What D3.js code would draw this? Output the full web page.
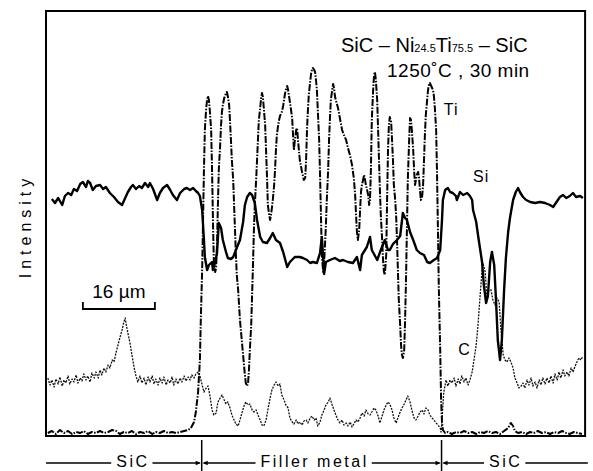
<!DOCTYPE html>
<html><head><meta charset="utf-8">
<script src="https://cdn.jsdelivr.net/npm/d3@7"></script>
<style>html,body{margin:0;padding:0;background:#fff;} svg{display:block;}</style>
</head><body><svg id="c" width="593" height="471"></svg>
<script>
// Line scan: position along the scan (µm), X-ray intensity (counts, a.u.)
const siScan = [[1.3,237],[2.0,233],[2.7,238],[3.6,231],[4.2,240],[4.9,243],[5.6,241],[6.2,247],[6.9,245],[7.6,252],[8.2,254],[8.9,249],[9.3,255],[9.8,253],[10.4,246],[11.1,250],[12.0,251],[12.7,247],[13.3,249],[14.2,243],[15.1,239],[16.0,234],[16.9,231],[17.6,238],[18.2,244],[18.9,249],[19.3,251],[20.0,247],[20.7,250],[21.3,248],[22.0,253],[22.7,249],[23.1,253],[23.8,247],[24.7,236],[25.3,243],[26.0,248],[26.9,251],[27.6,246],[28.2,241],[29.1,236],[29.8,243],[30.7,247],[31.3,248],[32.0,246],[32.7,248],[33.3,245],[33.8,243],[34.2,240],[34.7,226],[35.1,196],[35.3,179],[35.8,166],[36.2,171],[36.9,174],[37.1,166],[37.6,174],[38.0,183],[38.4,213],[38.9,208],[39.3,196],[40.0,184],[40.4,178],[41.1,177],[41.6,179],[42.2,186],[43.1,196],[43.8,214],[44.2,231],[44.7,239],[45.3,243],[45.8,241],[46.4,233],[46.9,216],[47.6,199],[48.2,194],[49.1,193],[49.8,198],[50.4,203],[51.1,196],[52.0,193],[52.7,184],[53.6,169],[54.2,174],[55.3,179],[56.4,179],[57.1,178],[58.0,176],[58.7,173],[59.3,174],[60.2,173],[60.9,183],[61.3,199],[61.6,178],[61.8,162],[62.2,174],[63.1,176],[64.2,178],[65.3,175],[66.0,176],[67.1,174],[68.2,173],[69.1,179],[69.8,166],[70.2,181],[71.3,189],[72.0,199],[72.4,186],[73.6,176],[74.4,186],[75.3,196],[76.0,186],[76.4,186],[77.1,192],[78.0,196],[78.7,200],[79.3,223],[79.8,218],[80.2,216],[80.9,204],[81.6,196],[82.4,186],[83.1,183],[84.0,181],[84.7,174],[85.3,173],[86.2,176],[86.9,178],[87.6,186],[88.0,216],[88.2,236],[88.7,246],[89.3,248],[89.8,244],[90.4,243],[91.1,240],[91.3,236],[92.0,244],[92.7,241],[93.6,243],[94.2,240],[94.7,236],[94.9,226],[95.6,214],[96.0,201],[96.4,189],[96.9,174],[97.3,151],[97.8,133],[98.2,140],[98.7,174],[99.1,184],[99.6,171],[100.0,136],[100.4,96],[100.9,76],[101.3,96],[101.8,146],[102.2,178],[102.7,204],[103.1,218],[103.8,236],[104.4,244],[104.9,248],[105.3,244],[106.0,239],[106.7,236],[107.6,234],[108.7,233],[109.8,234],[110.9,233],[112.0,231],[112.7,229],[113.3,233],[114.2,239],[114.9,241],[115.6,238],[116.4,240],[117.1,243],[117.8,239],[118.7,240],[119.3,238]];

const tiScan = [[0.4,3],[1.3,5],[2.2,2],[3.1,6],[4.0,3],[4.9,5],[5.8,2],[6.7,4],[7.6,3],[8.4,5],[9.3,2],[10.2,4],[11.1,3],[12.0,5],[12.9,3],[13.8,4],[14.7,6],[15.6,5],[16.4,2],[17.3,4],[18.2,3],[19.1,5],[20.0,2],[20.9,4],[21.8,3],[22.7,5],[23.6,2],[24.4,4],[25.3,3],[26.2,5],[27.1,3],[28.0,4],[28.9,3],[29.8,4],[30.7,5],[31.6,6],[32.2,8],[32.9,14],[33.3,24],[33.8,44],[34.2,76],[34.4,116],[34.7,166],[34.9,216],[35.1,266],[35.3,306],[35.6,328],[35.8,336],[36.0,340],[36.2,336],[36.4,326],[36.7,306],[36.9,266],[37.1,216],[37.3,174],[37.6,164],[37.8,168],[38.0,191],[38.2,231],[38.4,266],[38.7,291],[38.9,311],[39.1,324],[39.3,331],[39.6,338],[39.8,340],[40.0,343],[40.2,344],[40.4,340],[40.7,331],[40.9,314],[41.1,296],[41.3,276],[41.6,256],[41.8,231],[42.0,206],[42.2,181],[42.4,161],[42.7,146],[42.9,131],[43.1,116],[43.6,91],[44.0,71],[44.2,61],[44.4,53],[44.7,50],[44.9,53],[45.1,66],[45.3,86],[45.6,111],[45.8,141],[46.0,171],[46.2,206],[46.4,231],[46.7,256],[46.9,276],[47.1,296],[47.3,316],[47.6,328],[47.8,338],[48.0,343],[48.2,339],[48.4,328],[48.7,311],[48.9,286],[49.1,261],[49.3,231],[49.6,221],[49.8,216],[50.0,221],[50.2,228],[50.4,236],[50.7,251],[50.9,266],[51.1,286],[51.3,301],[51.6,311],[51.8,316],[52.0,320],[52.4,324],[52.7,330],[52.9,336],[53.1,342],[53.3,346],[53.6,350],[53.8,346],[54.0,340],[54.2,334],[54.4,328],[54.7,318],[54.9,301],[55.1,286],[55.3,296],[55.6,306],[55.8,308],[56.0,296],[56.4,276],[56.9,264],[57.3,256],[57.6,258],[57.8,276],[58.0,306],[58.2,326],[58.4,341],[58.7,354],[58.9,362],[59.1,366],[59.3,368],[59.6,366],[59.8,364],[60.0,356],[60.2,346],[60.4,326],[60.7,296],[60.9,261],[61.1,221],[61.3,181],[61.6,164],[61.8,174],[62.0,191],[62.2,211],[62.4,236],[62.7,266],[62.9,296],[63.1,318],[63.3,336],[63.6,346],[63.8,352],[64.0,348],[64.2,340],[64.4,336],[64.9,328],[65.3,318],[65.8,306],[66.2,301],[66.7,296],[67.1,288],[67.6,280],[68.0,271],[68.4,258],[68.7,241],[68.9,221],[69.1,204],[69.3,196],[69.6,206],[69.8,226],[70.0,244],[70.2,251],[70.7,261],[71.1,251],[71.6,241],[71.8,231],[72.0,236],[72.2,266],[72.4,316],[72.7,346],[72.9,361],[73.1,364],[73.3,356],[73.6,336],[73.8,306],[74.0,276],[74.2,246],[74.4,221],[74.7,196],[74.9,176],[75.1,164],[75.3,161],[75.6,181],[75.8,236],[76.0,286],[76.2,311],[76.4,319],[76.7,314],[76.9,296],[77.1,276],[77.3,251],[77.6,236],[77.8,221],[78.0,196],[78.2,166],[78.4,136],[78.7,111],[78.9,91],[79.1,81],[79.3,78],[79.6,86],[79.8,116],[80.0,156],[80.2,206],[80.4,256],[80.7,296],[80.9,318],[81.1,316],[81.3,306],[81.6,286],[81.8,266],[82.0,251],[82.2,256],[82.4,261],[82.7,264],[82.9,258],[83.1,246],[83.3,236],[83.6,240],[83.8,251],[84.0,276],[84.2,301],[84.4,321],[84.7,336],[84.9,346],[85.1,351],[85.3,353],[85.6,350],[85.8,348],[86.0,346],[86.2,340],[86.4,329],[86.7,306],[86.9,261],[87.1,206],[87.3,146],[87.6,86],[87.8,36],[88.0,14],[88.2,6],[88.7,3],[89.3,4],[90.2,2],[91.1,4],[92.0,3],[92.9,5],[93.8,3],[94.7,4],[95.6,2],[96.4,4],[97.3,3],[98.2,5],[99.1,3],[100.0,4],[100.9,2],[101.8,5],[102.7,8],[103.3,13],[103.8,10],[104.2,5],[104.9,3],[105.8,4],[106.7,2],[107.6,4],[108.4,3],[109.3,5],[110.2,3],[111.1,4],[112.0,2],[112.9,4],[113.8,3],[114.7,5],[115.6,3],[116.4,2],[117.3,4],[118.2,3],[119.1,2]];

const cScan = [[0.4,58],[0.9,51],[1.3,56],[1.8,49],[2.2,57],[2.7,52],[3.1,59],[3.6,50],[4.0,56],[4.4,53],[4.9,60],[5.3,52],[5.8,57],[6.2,54],[6.7,61],[7.1,53],[7.6,58],[8.0,55],[8.4,62],[8.9,56],[9.3,60],[9.8,54],[10.2,63],[10.7,58],[11.1,64],[11.6,58],[12.0,66],[12.4,61],[12.9,68],[13.3,64],[13.8,71],[14.2,68],[14.7,76],[15.1,74],[15.6,84],[16.0,91],[16.4,98],[16.9,106],[17.3,114],[17.6,118],[17.8,112],[18.2,103],[18.7,92],[19.1,81],[19.6,68],[20.0,60],[20.4,54],[20.9,60],[21.3,53],[21.8,58],[22.2,51],[22.7,59],[23.1,54],[23.6,60],[24.0,52],[24.4,57],[24.9,51],[25.3,58],[25.8,53],[26.2,59],[26.7,51],[27.1,56],[27.6,53],[28.0,59],[28.4,51],[28.9,57],[29.3,52],[29.8,58],[30.2,54],[30.7,60],[31.1,55],[31.6,59],[32.0,56],[32.4,61],[32.9,58],[33.3,62],[33.8,64],[34.2,60],[34.7,51],[35.1,44],[35.6,48],[36.0,50],[36.4,41],[36.9,26],[37.3,21],[37.8,23],[38.2,34],[38.7,38],[39.1,41],[39.6,36],[40.0,32],[40.4,34],[40.9,28],[41.3,21],[41.8,16],[42.2,12],[42.7,10],[43.1,16],[43.6,24],[44.0,30],[44.4,34],[44.9,31],[45.3,32],[45.8,26],[46.2,24],[46.7,26],[47.1,21],[47.6,16],[48.0,11],[48.4,10],[48.9,16],[49.3,26],[49.8,38],[50.2,46],[50.7,51],[51.1,54],[51.6,50],[52.0,52],[52.4,41],[52.9,36],[53.3,31],[53.8,28],[54.2,18],[54.7,14],[55.1,12],[55.6,16],[56.0,12],[56.4,14],[56.9,11],[57.3,15],[57.8,16],[58.2,13],[58.7,18],[59.1,20],[59.6,16],[60.0,18],[60.4,10],[60.9,14],[61.3,21],[61.8,26],[62.2,31],[62.7,34],[63.1,38],[63.6,31],[64.0,26],[64.4,21],[64.9,16],[65.3,13],[65.8,16],[66.2,11],[66.7,13],[67.1,10],[67.6,14],[68.0,9],[68.4,12],[68.9,16],[69.3,14],[69.8,18],[70.2,23],[70.7,20],[71.1,26],[71.6,22],[72.0,21],[72.4,24],[72.9,28],[73.3,26],[73.8,20],[74.2,13],[74.7,20],[75.1,26],[75.6,31],[76.0,34],[76.4,32],[76.9,26],[77.3,18],[77.8,13],[78.2,18],[78.7,24],[79.1,28],[79.6,32],[80.0,36],[80.4,40],[80.9,34],[81.3,26],[81.8,18],[82.2,16],[82.7,20],[83.1,24],[83.6,26],[84.0,22],[84.4,28],[84.9,26],[85.3,21],[85.8,18],[86.2,16],[86.7,13],[87.1,11],[87.6,8],[87.8,4],[88.0,16],[88.2,31],[88.4,44],[88.7,51],[88.9,56],[89.3,50],[89.8,56],[90.2,53],[90.7,58],[91.1,50],[91.6,57],[92.0,52],[92.4,60],[92.9,54],[93.3,58],[93.8,51],[94.2,56],[94.7,64],[95.1,76],[95.6,91],[96.0,111],[96.4,136],[96.9,166],[97.1,173],[97.6,164],[98.0,136],[98.4,146],[98.9,146],[99.3,136],[99.8,131],[100.2,138],[100.7,134],[101.1,106],[101.6,81],[102.0,76],[102.4,74],[102.9,78],[103.3,74],[103.8,68],[104.2,58],[104.7,53],[105.1,48],[105.6,50],[106.0,53],[106.4,48],[106.9,56],[107.3,51],[107.8,58],[108.2,50],[108.7,54],[109.1,48],[109.6,56],[110.0,51],[110.4,58],[110.9,52],[111.3,58],[111.8,53],[112.2,60],[112.7,53],[113.1,62],[113.6,56],[114.0,64],[114.4,58],[114.9,66],[115.3,60],[115.8,64],[116.2,60],[116.7,68],[117.1,64],[117.6,70],[118.0,74],[118.4,78],[118.9,76],[119.3,80]];

const regionBounds = [0, 34.6, 87.9, 120.4];
const regionLabels = ["SiC", "Filler metal", "SiC"];
const scaleBarUm = [8.2, 24.2];
const scaleBarLabel = "16 µm";
const curveLabels = [
  {text: "Ti", at: [88.4, 321]},
  {text: "Si", at: [94.9, 254]},
  {text: "C",  at: [91.6, 81]}
];

const svg = d3.select("#c");
const FONT = "'Liberation Sans', Arial, Helvetica, sans-serif";
const x = d3.scaleLinear().domain([0, 120]).range([46, 586]);
const y = d3.scaleLinear().domain([0, 425]).range([436, 11]);
const line = d3.line().x(d => x(d[0])).y(d => y(d[1]));

// plot frame
svg.append("rect").attr("x", x(0)).attr("y", y(425)).attr("width", x(119.8) - x(0)).attr("height", y(0) - y(425))
  .attr("fill", "none").attr("stroke", "#000").attr("stroke-width", 2);

// curves
svg.append("path").datum(cScan).attr("d", line).attr("fill", "none").attr("stroke", "#111")
  .attr("stroke-width", 1.3).attr("stroke-dasharray", "2,1.2").attr("stroke-linejoin", "round");
svg.append("path").datum(tiScan).attr("d", line).attr("fill", "none").attr("stroke", "#000")
  .attr("stroke-width", 2).attr("stroke-dasharray", "7,1.5,1.5,1.5").attr("stroke-linejoin", "round");
svg.append("path").datum(siScan).attr("d", line).attr("fill", "none").attr("stroke", "#000")
  .attr("stroke-width", 2.4).attr("stroke-linejoin", "round");

// curve labels
curveLabels.forEach(l => {
  svg.append("text").attr("x", x(l.at[0])).attr("y", y(l.at[1])).text(l.text)
    .attr("font-family", FONT).attr("font-size", 16).attr("letter-spacing", 1).attr("fill", "#000");
});

// title
const t1 = svg.append("text").attr("x", 341).attr("y", 52).attr("font-family", FONT).attr("font-size", 20).attr("fill", "#000");
t1.append("tspan").text("SiC – Ni");
t1.append("tspan").text("24.5").attr("font-size", 11);
t1.append("tspan").text("Ti");
t1.append("tspan").text("75.5").attr("font-size", 11);
t1.append("tspan").text(" – SiC");
svg.append("text").attr("x", 387).attr("y", 77).attr("font-family", FONT).attr("font-size", 19).attr("fill", "#000")
  .attr("letter-spacing", 0.5).text("1250˚C ,  30 min");

// y label
svg.append("text").attr("transform", "translate(31,226) rotate(-90)").attr("text-anchor", "middle")
  .attr("font-family", FONT).attr("font-size", 16).attr("letter-spacing", 5).attr("fill", "#000").text("Intensity");

// scale bar
const sb = svg.append("g");
sb.append("path").attr("d", `M${x(scaleBarUm[0])},302 V309 H${x(scaleBarUm[1])} V302`)
  .attr("fill", "none").attr("stroke", "#000").attr("stroke-width", 1.8);
sb.append("text").attr("x", (x(scaleBarUm[0]) + x(scaleBarUm[1])) / 2).attr("y", 298).attr("text-anchor", "middle")
  .attr("font-family", FONT).attr("font-size", 19).attr("fill", "#000").text(scaleBarLabel);

// region band below the plot
const bandY = 463;
const labelOffsets = [9, -7, -9];
regionLabels.forEach((lab, i) => {
  const a = x(regionBounds[i]), b = x(regionBounds[i + 1]);
  const cx = (a + b) / 2 + labelOffsets[i];
  const tx = svg.append("text").attr("x", cx).attr("y", bandY + 4).attr("text-anchor", "middle")
    .attr("font-family", FONT).attr("font-size", 16).attr("letter-spacing", 2.5).attr("fill", "#000").text(lab);
  const w = tx.node().getComputedTextLength();
  const gap = 5;
  const a2 = i === 0 ? a : a + 2, b2 = i === regionLabels.length - 1 ? b : b - 2;
  svg.append("line").attr("x1", a2).attr("x2", cx - w / 2 - gap).attr("y1", bandY).attr("y2", bandY)
    .attr("stroke", "#000").attr("stroke-width", 1.5);
  svg.append("line").attr("x1", cx + w / 2 + gap - 2).attr("x2", b2).attr("y1", bandY).attr("y2", bandY)
    .attr("stroke", "#000").attr("stroke-width", 1.5);
});
regionBounds.slice(1, -1).forEach(bv => {
  const bx = x(bv);
  svg.append("line").attr("x1", bx).attr("x2", bx).attr("y1", 440).attr("y2", 471).attr("stroke", "#000").attr("stroke-width", 1.5);
  svg.append("path").attr("d", `M${bx - 1},${bandY} L${bx - 6},${bandY - 2.2} L${bx - 6},${bandY + 2.2} Z`).attr("fill", "#000");
  svg.append("path").attr("d", `M${bx + 1},${bandY} L${bx + 6},${bandY - 2.2} L${bx + 6},${bandY + 2.2} Z`).attr("fill", "#000");
});
</script></body></html>
